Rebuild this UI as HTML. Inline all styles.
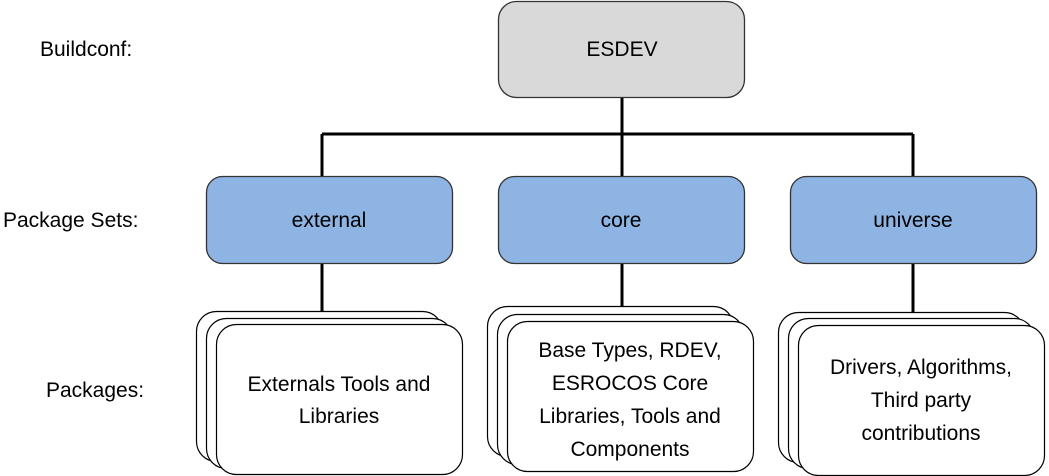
<!DOCTYPE html>
<html><head><meta charset="utf-8"><style>
html,body{margin:0;padding:0;background:#fff;width:1049px;height:476px;overflow:hidden}
text{font-family:"Liberation Sans",sans-serif;font-size:21px;fill:#000}
</style></head><body>
<svg width="1049" height="476" viewBox="0 0 1049 476" xmlns="http://www.w3.org/2000/svg">
<g stroke="#000" stroke-width="3" fill="none">
<line x1="622" y1="97" x2="622" y2="176"/>
<line x1="322" y1="134" x2="913" y2="134"/>
<line x1="322" y1="134" x2="322" y2="176"/>
<line x1="913" y1="134" x2="913" y2="176"/>
<line x1="322" y1="263" x2="322" y2="318"/>
<line x1="622" y1="263" x2="622" y2="314"/>
<line x1="913" y1="263" x2="913" y2="318"/>
</g>
<g stroke="#333" stroke-width="1.3">
<rect x="498.5" y="1.5" width="246" height="96" rx="18" fill="#d9d9d9"/>
<rect x="206.5" y="176.5" width="246" height="87" rx="16" fill="#8eb4e3"/>
<rect x="498.5" y="176.5" width="246" height="87" rx="16" fill="#8eb4e3"/>
<rect x="790.5" y="176.5" width="246" height="87" rx="16" fill="#8eb4e3"/>
</g>
<g stroke="#000" stroke-width="1.2" fill="#fff">
<rect x="196.5" y="311.5" width="246" height="150" rx="20"/>
<rect x="206.5" y="318.5" width="246" height="150" rx="20"/>
<rect x="216.5" y="324.5" width="246" height="150" rx="20"/>
<rect x="487.5" y="306.5" width="246" height="150" rx="20"/>
<rect x="497.5" y="314.5" width="246" height="150" rx="20"/>
<rect x="507.5" y="321.5" width="246" height="150" rx="20"/>
<rect x="778.5" y="312.5" width="246" height="150" rx="20"/>
<rect x="788.5" y="318.5" width="246" height="150" rx="20"/>
<rect x="798.5" y="325.5" width="246" height="150" rx="20"/>
</g>
<g text-anchor="middle">
<text x="622" y="56">ESDEV</text>
<text x="329" y="227">external</text>
<text x="621" y="227">core</text>
<text x="913" y="227">universe</text>
<text x="339" y="391">Externals Tools and</text>
<text x="339" y="423">Libraries</text>
<text x="630" y="357">Base Types, RDEV,</text>
<text x="630" y="390">ESROCOS Core</text>
<text x="630" y="423">Libraries, Tools and</text>
<text x="630" y="456">Components</text>
<text x="921" y="374">Drivers, Algorithms,</text>
<text x="921" y="407">Third party</text>
<text x="921" y="440">contributions</text>
</g>
<text x="40" y="56">Buildconf:</text>
<text x="3" y="227">Package Sets:</text>
<text x="46" y="397">Packages:</text>
</svg>
</body></html>
